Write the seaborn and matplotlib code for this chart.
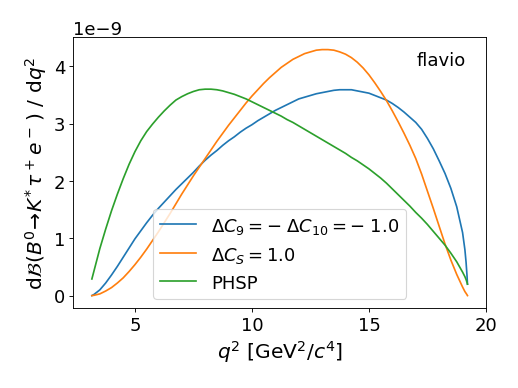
import numpy as np
import pandas as pd
import matplotlib
matplotlib.use("Agg")
import matplotlib.pyplot as plt
import seaborn as sns

q2 = [3.16, 3.25, 3.5, 3.75, 4.0, 4.25, 4.5, 4.75, 5.0, 5.25, 5.5, 5.75,
      6.0, 6.25, 6.5, 6.75, 7.0, 7.25, 7.5, 7.75, 8.0, 8.25, 8.5, 8.75,
      9.0, 9.25, 9.5, 9.75, 10.0, 10.25, 10.5, 10.75, 11.0, 11.25, 11.5, 11.75,
      12.0, 12.25, 12.5, 12.75, 13.0, 13.25, 13.5, 13.75, 14.0, 14.25, 14.5, 14.75,
      15.0, 15.25, 15.5, 15.75, 16.0, 16.25, 16.5, 16.75, 17.0, 17.25, 17.5, 17.75,
      18.0, 18.25, 18.5, 18.75, 19.0, 19.1, 19.15, 19.19, 19.21]

c9c10 = [0.0, 0.02, 0.10, 0.22, 0.36, 0.51, 0.67, 0.83, 0.99, 1.13, 1.27, 1.40,
         1.52, 1.63, 1.74, 1.85, 1.95, 2.05, 2.15, 2.26, 2.36, 2.45, 2.53, 2.62,
         2.70, 2.77, 2.85, 2.92, 2.98, 3.05, 3.11, 3.17, 3.23, 3.28, 3.33, 3.38,
         3.43, 3.46, 3.49, 3.52, 3.54, 3.56, 3.58, 3.59, 3.59, 3.59, 3.57, 3.55,
         3.53, 3.49, 3.45, 3.41, 3.35, 3.28, 3.20, 3.11, 3.02, 2.90, 2.74, 2.56,
         2.35, 2.13, 1.87, 1.55, 1.10, 0.80, 0.58, 0.35, 0.20]

cs = [0.0, 0.005, 0.03, 0.08, 0.14, 0.22, 0.31, 0.42, 0.54, 0.67, 0.81, 0.96,
      1.11, 1.27, 1.43, 1.60, 1.77, 1.93, 2.09, 2.24, 2.39, 2.54, 2.69, 2.83,
      2.97, 3.10, 3.23, 3.36, 3.48, 3.59, 3.70, 3.80, 3.89, 3.98, 4.05, 4.12,
      4.17, 4.22, 4.25, 4.28, 4.29, 4.29, 4.28, 4.25, 4.21, 4.15, 4.07, 3.97,
      3.85, 3.71, 3.56, 3.40, 3.22, 3.03, 2.83, 2.62, 2.39, 2.12, 1.82, 1.52,
      1.21, 0.90, 0.62, 0.37, 0.15, 0.07, 0.04, 0.015, 0.0]

phsp = [0.29, 0.43, 0.82, 1.16, 1.48, 1.77, 2.04, 2.29, 2.51, 2.70, 2.86, 2.99,
        3.11, 3.22, 3.32, 3.41, 3.47, 3.52, 3.56, 3.59, 3.60, 3.60, 3.59, 3.57,
        3.54, 3.51, 3.47, 3.43, 3.38, 3.33, 3.28, 3.23, 3.18, 3.13, 3.07, 3.02,
        2.96, 2.90, 2.84, 2.78, 2.72, 2.66, 2.60, 2.54, 2.48, 2.41, 2.35, 2.28,
        2.21, 2.13, 2.05, 1.96, 1.86, 1.76, 1.66, 1.56, 1.45, 1.35, 1.24, 1.12,
        1.00, 0.88, 0.74, 0.59, 0.41, 0.33, 0.28, 0.23, 0.20]

labels = [r'$\Delta C_9 = -\;\Delta C_{10} = -\;1.0$', r'$\Delta C_S = 1.0$', 'PHSP']
colors = ['#1f77b4', '#ff7f0e', '#2ca02c']
scale = 1e-9

frames = []
for lab, vals in zip(labels, [c9c10, cs, phsp]):
    frames.append(pd.DataFrame({'q2': q2, 'dBdq2': np.array(vals) * scale, 'model': lab}))
df = pd.concat(frames, ignore_index=True)

fig, ax = plt.subplots(figsize=(6.4, 4.8), dpi=81)
fig.subplots_adjust(left=0.141, right=0.938, top=0.902, bottom=0.206)

sns.lineplot(data=df, x='q2', y='dBdq2', hue='model', hue_order=labels,
             palette=colors, ax=ax, linewidth=1.5)

ax.legend(loc='lower center', fontsize=16)
ax.set_xlabel(r'$q^2$ [GeV$^2$/$c^4$]', fontsize=18)
ax.set_ylabel(r'd$\mathcal{B}$($B^0\!\to\!K^{*}\,\tau^+e^-\,$) / d$q^2$', fontsize=18)
ax.tick_params(labelsize=16)
ax.yaxis.get_offset_text().set_fontsize(16)
ax.set_xticks([5, 10, 15, 20])
ax.set_yticks(np.array([0, 1, 2, 3, 4]) * scale)
ax.text(0.95, 0.95, 'flavio', transform=ax.transAxes, ha='right', va='top', fontsize=16)

fig.savefig('out.png', dpi=81)
